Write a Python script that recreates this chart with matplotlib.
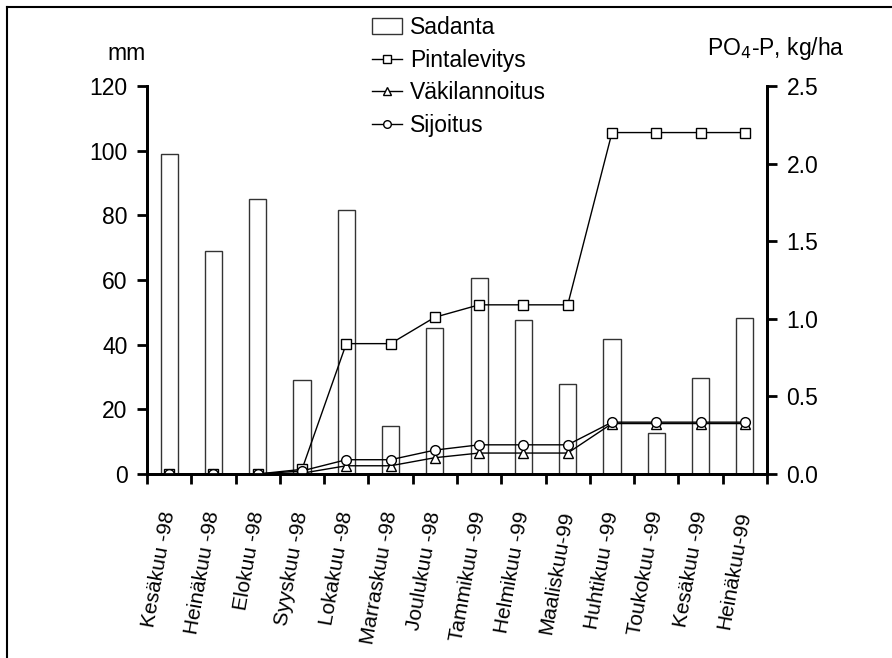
import matplotlib
matplotlib.use('Agg')
from matplotlib import pyplot as plt
from matplotlib.lines import Line2D
from matplotlib.patches import Patch
import numpy as np

plt.rc('font', family=['Liberation Sans', 'DejaVu Sans'], size=16.5)

months = ['Kesäkuu -98', 'Heinäkuu -98', 'Elokuu -98', 'Syyskuu -98',
          'Lokakuu -98', 'Marraskuu -98', 'Joulukuu -98', 'Tammikuu -99',
          'Helmikuu -99', 'Maaliskuu-99', 'Huhtikuu -99', 'Toukokuu -99',
          'Kesäkuu -99', 'Heinäkuu-99']
# monthly rainfall, mm
sadanta = [99, 69, 85, 29, 81.5, 14.7, 45.3, 60.5, 47.7, 27.9, 41.6, 12.7, 29.8, 48.3]
# cumulative PO4-P loss, kg/ha
pintalevitys = [0, 0, 0, 0.03, 0.84, 0.84, 1.01, 1.09, 1.09, 1.09, 2.20, 2.20, 2.20, 2.20]
vakilannoitus = [0, 0, 0, 0.005, 0.053, 0.053, 0.105, 0.135, 0.135, 0.135, 0.325, 0.325, 0.325, 0.325]
sijoitus = [0, 0, 0, 0.02, 0.092, 0.092, 0.154, 0.188, 0.188, 0.188, 0.334, 0.334, 0.334, 0.334]

x = np.arange(len(months))

fig = plt.figure(figsize=(8.92, 6.58), dpi=100)
ax = fig.add_axes([147 / 892, 1 - 474 / 658, (767 - 147) / 892, (474 - 86) / 658])
ax2 = ax.twinx()

ax.bar(x, sadanta, width=0.385, facecolor='white', edgecolor='#333', lw=1)

mk = dict(color='black', lw=1, mfc='white', mec='black', mew=1)
ax2.plot(x, pintalevitys, marker='s', ms=7.5, **mk)
ax2.plot(x, vakilannoitus, marker='^', ms=7.5, **mk)
ax2.plot(x, sijoitus, marker='o', ms=7, **mk)

ax.set_xlim(-0.5, len(months) - 0.5)
ax.set_ylim(0, 120)
ax2.set_ylim(0, 2.5)
ax.set_yticks(range(0, 121, 20))
ax2.set_yticks(np.arange(0, 2.51, 0.5))
ax2.set_yticklabels([f'{v:.1f}' for v in np.arange(0, 2.51, 0.5)])

ax.set_xticks(x)
ax.set_xticklabels(months, rotation=80, ha='right', va='center',
                   rotation_mode='anchor', fontsize=15)
ax.set_xticks(np.arange(-0.5, len(months)), minor=True)
ax.tick_params(axis='x', which='major', length=0, pad=27)
ax.tick_params(axis='x', which='minor', direction='out', length=7, width=2)
ax.tick_params(axis='y', direction='out', length=7, width=2, pad=7)
ax2.tick_params(axis='y', direction='out', length=7, width=2, pad=7)

for a in (ax, ax2):
    a.spines['top'].set_visible(False)
    for s in ('left', 'right', 'bottom'):
        a.spines[s].set_linewidth(2)

fig.text(127 / 892, 1 - 53 / 658, 'mm', ha='center', va='center')
fig.text(707 / 892, 1 - 48 / 658, 'PO$_4$-P, kg/ha', ha='left', va='center')

handles = [
    Patch(facecolor='white', edgecolor='#333', lw=1),
    Line2D([], [], marker='s', ms=5.5, **mk),
    Line2D([], [], marker='^', ms=5.5, **mk),
    Line2D([], [], marker='o', ms=5.5, **mk),
]
fig.legend(handles, ['Sadanta', 'Pintalevitys', 'Väkilannoitus', 'Sijoitus'],
           loc='upper left', bbox_to_anchor=(372 / 892, 1 - 16 / 658),
           frameon=False, handlelength=1.3, handletextpad=0.35,
           labelspacing=0.42, borderaxespad=0, borderpad=0)

# outer frame, left and top edges
fig.add_artist(Line2D([7 / 892, 7 / 892], [0, 1 - 7 / 658], color='black', lw=1.5))
fig.add_artist(Line2D([7 / 892, 1], [1 - 7 / 658, 1 - 7 / 658], color='black', lw=1.5))

fig.savefig('out.png', dpi=100)
